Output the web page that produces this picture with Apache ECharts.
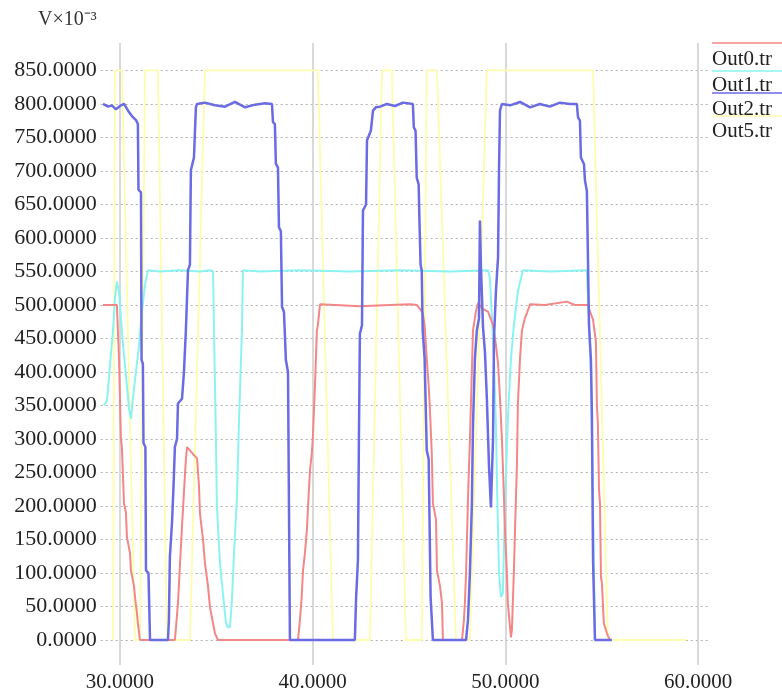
<!DOCTYPE html>
<html><head><meta charset="utf-8">
<script src="https://cdn.jsdelivr.net/npm/echarts@6/dist/echarts.min.js"></script>
<style>html,body{margin:0;padding:0;background:#fff}#c{width:782px;height:696px}</style>
</head><body><div id="c"></div>
<script>
const xTicks = [30, 40, 50, 60];
const yTicks = [0, 50, 100, 150, 200, 250, 300, 350, 400, 450, 500, 550, 600, 650, 700, 750, 800, 850];
const seriesNames = ['Out0.tr', 'Out1.tr', 'Out2.tr', 'Out5.tr'];
const unitLabel = 'V×10⁻³';

const out0 = [[29.12,500],[29.48,500],[29.84,500],[29.90,500],[29.95,420],[30.05,300],[30.10,288],[30.21,204],[30.31,190],[30.36,154],[30.52,130],[30.57,104],[30.73,80],[30.78,64],[30.88,40],[30.93,25],[31.04,0],[32.85,0],[32.91,20],[33.01,55],[33.11,110],[33.22,170],[33.32,220],[33.42,270],[33.48,288],[33.63,283],[33.84,276],[34.00,271],[34.10,230],[34.15,189],[34.31,150],[34.41,115],[34.57,80],[34.67,49],[34.83,25],[34.93,10],[35.09,0],[39.24,0],[39.34,30],[39.42,60],[39.50,104],[39.60,130],[39.70,164],[39.78,210],[39.86,253],[39.96,280],[40.01,303],[40.12,380],[40.22,462],[40.27,470],[40.38,501],[41.16,500],[42.45,498],[44.01,500],[45.05,501],[45.40,500],[45.55,495],[45.71,488],[45.81,470],[45.92,420],[46.02,380],[46.07,353],[46.18,280],[46.24,204],[46.40,180],[46.45,104],[46.61,80],[46.71,55],[46.76,0],[47.75,0],[47.85,30],[47.90,55],[47.96,100],[48.01,154],[48.08,230],[48.16,298],[48.24,380],[48.32,462],[48.47,490],[48.58,503],[48.79,495],[49.10,490],[49.36,470],[49.51,440],[49.62,413],[49.72,362],[49.82,300],[49.92,220],[49.98,164],[50.08,100],[50.13,55],[50.24,20],[50.29,4],[50.34,15],[50.44,100],[50.50,164],[50.60,260],[50.65,353],[50.76,420],[50.86,462],[51.01,480],[51.12,488],[51.28,501],[52.05,500],[53.19,505],[53.61,500],[54.29,500],[54.39,490],[54.55,478],[54.70,445],[54.75,350],[54.80,324],[54.86,224],[54.91,204],[54.96,94],[55.01,85],[55.11,25],[55.27,10],[55.42,0]];

const out1 = [[29.17,350],[29.33,358],[29.48,410],[29.64,462],[29.74,510],[29.84,535],[29.95,520],[30.05,480],[30.16,440],[30.26,410],[30.36,380],[30.47,345],[30.57,330],[30.67,360],[30.83,400],[30.99,440],[31.14,490],[31.30,530],[31.45,552],[32.08,550],[33.11,552],[34.15,550],[34.67,552],[34.83,550],[34.88,462],[34.98,300],[35.03,200],[35.19,115],[35.34,70],[35.50,25],[35.60,19],[35.71,19],[35.81,60],[35.92,130],[36.07,213],[36.18,330],[36.33,462],[36.38,552],[37.26,550],[39.34,552],[41.93,550],[44.53,552],[47.12,550],[49.10,552],[49.20,540],[49.30,480],[49.41,420],[49.51,320],[49.59,200],[49.67,100],[49.77,64],[49.87,70],[49.98,200],[50.13,330],[50.29,420],[50.44,470],[50.65,520],[50.91,552],[52.31,550],[54.23,552],[54.34,470],[54.44,400],[54.55,200],[54.65,0]];

const out2 = [[29.12,800],[29.38,796],[29.58,798],[29.79,792],[30.00,797],[30.21,800],[30.42,790],[30.62,782],[30.83,776],[30.93,770],[30.96,672],[31.09,668],[31.12,418],[31.19,412],[31.22,294],[31.32,288],[31.35,104],[31.48,100],[31.56,0],[32.49,0],[32.54,30],[32.59,124],[32.70,175],[32.78,230],[32.85,288],[32.96,300],[33.01,353],[33.22,360],[33.32,400],[33.42,462],[33.53,552],[33.63,560],[33.68,701],[33.84,720],[33.94,795],[34.00,800],[34.41,802],[34.93,798],[35.45,796],[35.97,803],[36.49,795],[37.01,799],[37.52,801],[37.89,800],[37.94,773],[38.04,770],[38.09,711],[38.20,705],[38.25,616],[38.35,610],[38.41,497],[38.51,490],[38.61,418],[38.72,400],[38.82,0],[42.19,0],[42.25,60],[42.35,120],[42.40,300],[42.45,457],[42.56,470],[42.61,641],[42.77,650],[42.82,746],[43.02,760],[43.13,790],[43.28,795],[43.49,796],[43.85,800],[44.27,797],[44.69,802],[45.20,800],[45.25,765],[45.34,760],[45.40,690],[45.50,680],[45.55,616],[45.60,560],[45.66,552],[45.71,462],[45.81,420],[45.92,283],[46.02,270],[46.12,64],[46.24,0],[47.96,0],[48.06,30],[48.16,100],[48.26,200],[48.32,320],[48.42,420],[48.52,462],[48.63,480],[48.68,626],[48.73,560],[48.84,467],[48.94,430],[49.04,360],[49.15,260],[49.25,198],[49.36,300],[49.41,450],[49.51,520],[49.62,571],[49.67,700],[49.72,790],[49.82,800],[50.24,798],[50.76,803],[51.28,795],[51.79,800],[52.31,796],[52.83,802],[53.35,800],[53.71,800],[53.77,780],[53.87,775],[53.92,720],[54.08,710],[54.13,686],[54.23,670],[54.29,562],[54.34,470],[54.44,418],[54.49,339],[54.55,119],[54.65,0],[55.53,0]];

const out5 = [[29.64,0],[29.74,850],[30.10,850],[30.78,0],[31.04,0],[31.30,850],[31.97,850],[32.44,0],[33.63,0],[34.41,850],[40.27,850],[41.05,0],[42.97,0],[43.60,850],[44.11,850],[44.84,0],[45.66,0],[45.92,850],[46.45,850],[47.44,0],[48.16,0],[49.04,850],[54.55,850],[55.32,0],[59.37,0]];

const colors = ['#f38686', '#8af3f0', '#6b6be3', '#fdfdae'];
const fontFam = '"Liberation Serif","Times New Roman",serif';

const chart = echarts.init(document.getElementById('c'), null, {renderer: 'canvas'});

const legendTops = [43, 71, 93, 116];
const legendTextY = [59, 85.5, 109, 131];
const graphic = [{
  type: 'text', x: 38, y: 20,
  style: {text: unitLabel, font: '20px ' + fontFam, fill: '#333', verticalAlign: 'middle', align: 'left'}
}];
seriesNames.forEach((n, i) => {
  graphic.push({type: 'line', shape: {x1: 712, y1: legendTops[i], x2: 782, y2: legendTops[i]},
    style: {stroke: colors[i], lineWidth: 1.5}});
  graphic.push({type: 'text', x: 712, y: legendTextY[i],
    style: {text: n, font: '21px ' + fontFam, fill: '#222', verticalAlign: 'middle', align: 'left'}});
});

const mk = (name, data, color, width) => ({
  name, type: 'line', data, showSymbol: false, symbol: 'none', smooth: false,
  lineStyle: {color, width}, itemStyle: {color}, animation: false
});

chart.setOption({
  animation: false,
  backgroundColor: '#ffffff',
  grid: {left: 100.7, right: 74.3, top: 43, bottom: 31, containLabel: false, outerBoundsMode: 'none'},
  xAxis: {
    type: 'value', min: 29, max: 60.5,
    axisLine: {show: false},
    axisTick: {show: false, customValues: xTicks},
    axisLabel: {customValues: xTicks, formatter: v => v.toFixed(4), margin: 7,
      fontFamily: fontFam, fontSize: 21, color: '#222', hideOverlap: false},
    splitLine: {show: true, lineStyle: {color: '#cdcdcd', width: 1.5, type: 'solid'}}
  },
  yAxis: {
    type: 'value', min: -37.3, max: 891,
    axisLine: {show: false},
    axisTick: {show: false, customValues: yTicks},
    axisLabel: {customValues: yTicks, formatter: v => v.toFixed(4), margin: 4,
      fontFamily: fontFam, fontSize: 22, color: '#222', hideOverlap: false},
    splitLine: {show: true, lineStyle: {color: '#b0b0b0', width: 1, type: [2, 3]}}
  },
  graphic,
  series: [
    mk(seriesNames[3], out5, colors[3], 1.8),
    mk(seriesNames[1], out1, colors[1], 2),
    mk(seriesNames[0], out0, colors[0], 2),
    mk(seriesNames[2], out2, colors[2], 2.5)
  ]
});
</script></body></html>
